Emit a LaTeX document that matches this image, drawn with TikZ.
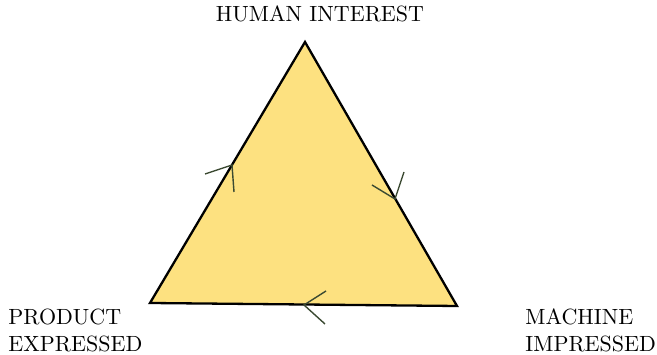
\documentclass[tikz,border=0pt]{standalone}
\usepackage{tikz}
\definecolor{triyellow}{RGB}{253,225,128}
\definecolor{arrowgreen}{RGB}{59,74,50}
\begin{document}
\begin{tikzpicture}[x=1pt,y=1pt,
  lbl/.style={font=\fontsize{10}{12.3}\selectfont, inner sep=0pt, align=left, scale=2.2, transform shape},
  tip/.style={draw=arrowgreen, line width=1.4pt}]
\useasboundingbox (0,0) rectangle (657,355);
\coordinate (A) at (305,313);
\coordinate (B) at (150,52);
\coordinate (C) at (457,49);
\draw[fill=triyellow, line width=2.3pt, line join=miter] (A) -- (C) -- (B) -- cycle;
% arrowheads
\coordinate (t1) at (232,190);
\draw[tip] (205,181) -- (t1) -- (234,163);
\coordinate (t2) at (395,156);
\draw[tip] (372,170) -- (t2) -- (404,183);
\coordinate (t3) at (304,50);
\draw[tip] (326,64) -- (t3) -- (325,31);
\node[lbl, anchor=base] (h) at (320,333) {HUMAN INTEREST};
\node[lbl, anchor=base west] (p) at (8,3.5) {PRODUCT\\EXPRESSED};
\node[lbl, anchor=base west] (m) at (525,3.5) {MACHINE\\IMPRESSED};
\end{tikzpicture}
\end{document}
